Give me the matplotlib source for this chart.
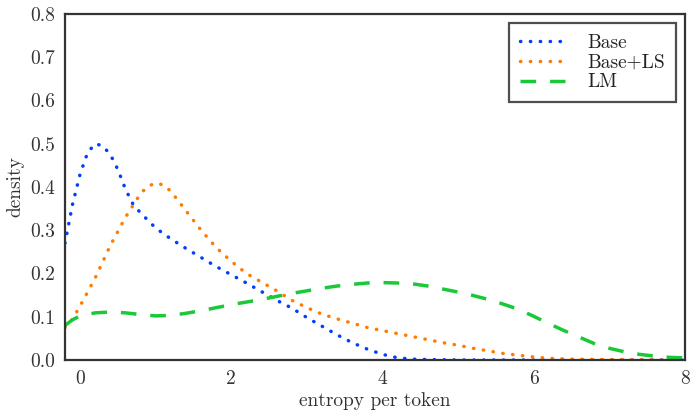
import matplotlib
matplotlib.use("Agg")
import matplotlib.pyplot as plt

plt.rcParams['font.family'] = ['cmr10', 'DejaVu Serif']
plt.rcParams['mathtext.fontset'] = 'cm'
plt.rcParams['axes.unicode_minus'] = False
plt.rcParams['axes.formatter.use_mathtext'] = True

# Base
base_x = [-0.2, -0.1, 0.0, 0.1, 0.2, 0.3, 0.4, 0.5, 0.6, 0.7, 0.8, 1.0, 1.2, 1.4, 1.6,
          1.8, 2.0, 2.2, 2.4, 2.6, 2.8, 3.0, 3.2, 3.4, 3.6, 3.8, 4.0, 4.2, 4.4, 4.6,
          5.0, 6.0, 7.0, 8.0]
base_y = [0.27, 0.36, 0.43, 0.48, 0.50, 0.495, 0.475, 0.44, 0.395, 0.36, 0.34, 0.305,
          0.28, 0.258, 0.237, 0.216, 0.197, 0.178, 0.158, 0.138, 0.12, 0.098, 0.078,
          0.058, 0.04, 0.025, 0.013, 0.005, 0.002, 0.001, 0.0, 0.0, 0.0, 0.0]

# Base+LS
ls_x = [-0.2, -0.1, 0.0, 0.2, 0.4, 0.6, 0.8, 0.9, 1.0, 1.1, 1.2, 1.4, 1.6, 1.8, 2.0,
        2.2, 2.4, 2.6, 2.8, 3.0, 3.2, 3.4, 3.6, 3.8, 4.0, 4.2, 4.4, 4.6, 4.8, 5.0,
        5.2, 5.4, 5.6, 5.8, 6.0, 6.2, 6.5, 7.0, 8.0]
ls_y = [0.075, 0.095, 0.125, 0.19, 0.265, 0.33, 0.385, 0.402, 0.409, 0.405, 0.39,
        0.345, 0.30, 0.26, 0.228, 0.2, 0.18, 0.16, 0.138, 0.121, 0.106, 0.095, 0.085,
        0.075, 0.068, 0.061, 0.054, 0.047, 0.04, 0.034, 0.027, 0.021, 0.015, 0.011,
        0.007, 0.004, 0.002, 0.001, 0.0]

# LM
lm_x = [-0.2, -0.1, 0.0, 0.2, 0.4, 0.6, 0.8, 1.0, 1.2, 1.4, 1.6, 1.8, 2.0, 2.2, 2.4,
        2.6, 2.8, 3.0, 3.2, 3.4, 3.6, 3.8, 4.0, 4.2, 4.4, 4.6, 4.8, 5.0, 5.2, 5.4,
        5.6, 5.8, 6.0, 6.2, 6.4, 6.6, 6.8, 7.0, 7.2, 7.4, 7.6, 7.8, 8.0]
lm_y = [0.08, 0.093, 0.102, 0.109, 0.111, 0.109, 0.105, 0.102, 0.103, 0.108, 0.114,
        0.121, 0.128, 0.134, 0.14, 0.147, 0.154, 0.16, 0.166, 0.171, 0.175, 0.178,
        0.179, 0.178, 0.176, 0.171, 0.164, 0.157, 0.149, 0.14, 0.129, 0.117, 0.101,
        0.084, 0.068, 0.053, 0.038, 0.027, 0.019, 0.013, 0.009, 0.006, 0.005]

labels = ["Base", "Base+LS", "LM"]
colors = ["#023eff", "#ff7c00", "#1ac938"]
xticks = [0, 2, 4, 6, 8]
yticks = [0.0, 0.1, 0.2, 0.3, 0.4, 0.5, 0.6, 0.7, 0.8]

FS = 14

fig = plt.figure(figsize=(6.91, 4.11), dpi=100)
ax = fig.add_axes([65 / 691, 1 - 360 / 411, 620 / 691, 346 / 411])

dot = (0, (0.1, 2.75))
ax.plot(base_x, base_y, color=colors[0], lw=2.5, linestyle=dot,
        dash_capstyle='round', label=labels[0])
ax.plot(ls_x, ls_y, color=colors[1], lw=2.5, linestyle=dot,
        dash_capstyle='round', label=labels[1])
ax.plot(lm_x, lm_y, color=colors[2], lw=2.5, linestyle=(0, (4.5, 4.0)),
        label=labels[2])

ax.set_xlim(-0.2, 8)
ax.set_ylim(0, 0.8)
ax.set_xticks(xticks)
ax.set_yticks(yticks)
ax.set_xticklabels([str(t) for t in xticks])
ax.set_yticklabels([f"{t:.1f}" for t in yticks])
ax.tick_params(length=0, labelsize=FS, colors="#333333", pad=7)
for s in ax.spines.values():
    s.set_color("#333333")
    s.set_linewidth(1.6)

ax.set_xlabel("entropy per token", fontsize=FS, color="#333333", labelpad=3)
ax.set_ylabel("density", fontsize=FS, color="#333333", labelpad=4)

leg = ax.legend(loc="upper right", fontsize=FS, frameon=True, fancybox=False,
                handlelength=2.3, borderpad=0.55, labelspacing=0.1,
                bbox_to_anchor=(0.985, 0.974), borderaxespad=0,
                handletextpad=1.15)
leg.get_frame().set_edgecolor("#222222")
leg.get_frame().set_linewidth(1.6)
for t in leg.get_texts():
    t.set_color("#222222")

fig.savefig("out.png", dpi=100)
